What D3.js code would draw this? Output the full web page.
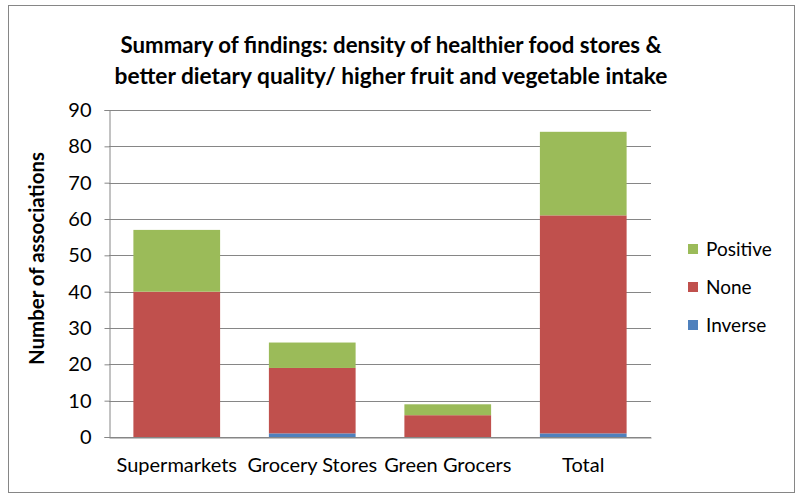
<!DOCTYPE html>
<html>
<head>
<meta charset="utf-8">
<script src="https://cdn.jsdelivr.net/npm/d3@7"></script>
<style>
  body { margin: 0; background: #fff; }
  svg { display: block; font-family: Lato, "Open Sans", sans-serif; }
</style>
</head>
<body>
<svg id="chart" width="800" height="498"></svg>
<script>
// data
const categories = ["Supermarkets", "Grocery Stores", "Green Grocers", "Total"];
const inverse = [0, 1, 0, 1];
const none = [40, 18, 6, 60];
const positive = [17, 7, 3, 23];
const seriesNames = ["Inverse", "None", "Positive"];
const seriesColors = ["#4F81BD", "#C0504D", "#9BBB59"];
const yTicks = [0, 10, 20, 30, 40, 50, 60, 70, 80, 90];
const titleLines = [
  "Summary of findings: density of healthier food stores &",
  "better dietary quality/ higher fruit and vegetable intake"
];

const svg = d3.select("#chart");
const W = 800, H = 498;
const plot = { left: 109, right: 651, top: 110, bottom: 437 };

// outer chart border
svg.append("rect")
  .attr("x", 8.5).attr("y", 5.5)
  .attr("width", W - 14).attr("height", H - 11)
  .attr("fill", "#fff")
  .attr("stroke", "#868686")
  .attr("stroke-width", 1);

// title
const titleX = 391;
const titleWidths = [541, 553];
titleLines.forEach((t, i) => {
  svg.append("text")
    .attr("x", titleX).attr("y", 53 + i * 31)
    .attr("text-anchor", "middle")
    .attr("font-size", 22).attr("font-weight", "bold")
    .attr("fill", "#000")
    .attr("textLength", titleWidths[i])
    .attr("lengthAdjust", "spacingAndGlyphs")
    .text(t);
});

const table = categories.map((c, i) => ({
  category: c, Inverse: inverse[i], None: none[i], Positive: positive[i]
}));
const stack = d3.stack().keys(seriesNames)(table);

const x = d3.scaleBand()
  .domain(categories)
  .range([plot.left, plot.right])
  .paddingInner(0.36)
  .paddingOuter(0.18);

const y = d3.scaleLinear()
  .domain([0, 90])
  .range([plot.bottom, plot.top]);

// gridlines
svg.append("g")
  .selectAll("line")
  .data(yTicks)
  .join("line")
  .attr("x1", plot.left).attr("x2", plot.right)
  .attr("y1", d => Math.round(y(d)) + 0.5)
  .attr("y2", d => Math.round(y(d)) + 0.5)
  .attr("stroke", "#868686")
  .attr("stroke-width", 1);

// bars
svg.append("g")
  .selectAll("g")
  .data(stack)
  .join("g")
  .attr("fill", (d, i) => seriesColors[i])
  .selectAll("rect")
  .data(d => d)
  .join("rect")
  .attr("x", d => x(d.data.category))
  .attr("width", x.bandwidth())
  .attr("y", d => y(d[1]))
  .attr("height", d => y(d[0]) - y(d[1]));

// y axis
const yAxis = svg.append("g")
  .attr("transform", `translate(${plot.left + 0.5},0)`)
  .call(d3.axisLeft(y).tickValues(yTicks).tickSize(5).tickPadding(13));
yAxis.select(".domain").attr("stroke", "#868686");
yAxis.selectAll(".tick line").attr("stroke", "#868686");
yAxis.selectAll(".tick text")
  .attr("font-size", 20)
  .attr("font-family", "Lato, sans-serif")
  .attr("fill", "#000");

// x axis
const xAxis = svg.append("g")
  .attr("transform", `translate(0,${plot.bottom + 0.5})`)
  .call(d3.axisBottom(x).tickSize(0).tickPadding(20));
xAxis.select(".domain").attr("stroke", "#868686");
xAxis.selectAll(".tick text")
  .attr("font-size", 20)
  .attr("font-family", "Lato, sans-serif")
  .attr("fill", "#000");

// y axis title
svg.append("text")
  .attr("transform", `translate(44,${(plot.top + plot.bottom) / 2 - 15}) rotate(-90)`)
  .attr("text-anchor", "middle")
  .attr("font-size", 20).attr("font-weight", "bold")
  .attr("fill", "#000")
  .attr("textLength", 213)
  .attr("lengthAdjust", "spacingAndGlyphs")
  .text("Number of associations");

// legend (Positive on top)
const legendItems = seriesNames.map((n, i) => ({ name: n, color: seriesColors[i] })).reverse();
const legend = svg.append("g")
  .selectAll("g")
  .data(legendItems)
  .join("g")
  .attr("transform", (d, i) => `translate(688,${249 + i * 38})`);
legend.append("rect")
  .attr("x", 0).attr("y", -5)
  .attr("width", 10).attr("height", 10)
  .attr("fill", d => d.color);
legend.append("text")
  .attr("x", 18).attr("y", 0)
  .attr("dy", "0.36em")
  .attr("font-size", 19)
  .attr("fill", "#000")
  .text(d => d.name);
</script>
</body>
</html>
